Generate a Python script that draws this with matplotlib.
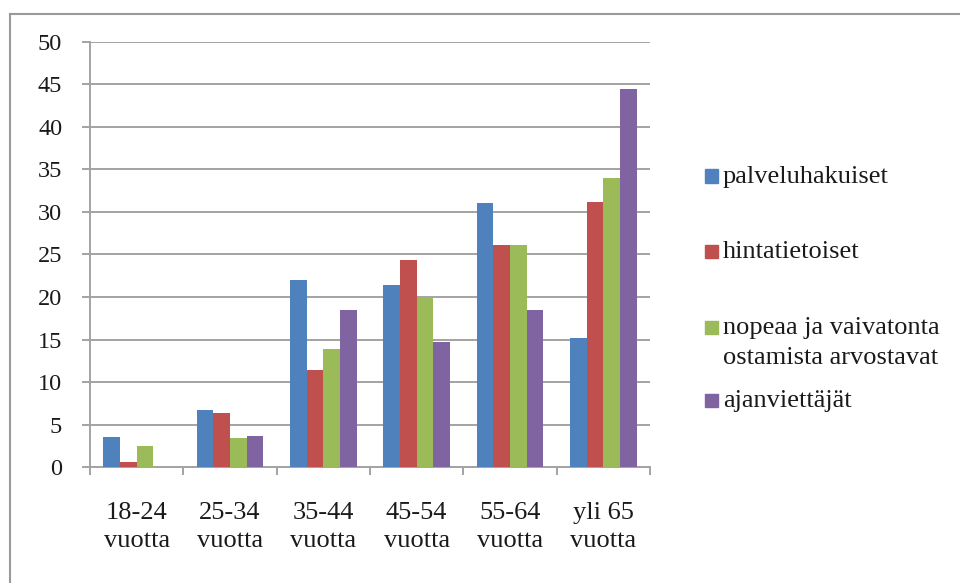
import matplotlib
matplotlib.use("Agg")
import matplotlib.pyplot as plt
from matplotlib.patches import Rectangle
from matplotlib.lines import Line2D
import numpy as np

categories = ["18-24\nvuotta", "25-34\nvuotta", "35-44\nvuotta", "45-54\nvuotta", "55-64\nvuotta", "yli 65\nvuotta"]
series_names = ["palveluhakuiset", "hintatietoiset",
                "nopeaa ja vaivatonta\nostamista arvostavat", "ajanviettäjät"]
palveluhakuiset = [3.6, 6.7, 22.0, 21.4, 31.0, 15.2]
hintatietoiset = [0.6, 6.4, 11.4, 24.3, 26.1, 31.2]
nopeaa = [2.5, 3.5, 13.9, 20.0, 26.1, 34.0]
ajanviettajat = [0.0, 3.7, 18.5, 14.7, 18.5, 44.5]
series_values = [palveluhakuiset, hintatietoiset, nopeaa, ajanviettajat]
colors = ["#4F81BD", "#C0504D", "#9BBB59", "#8064A2"]
yticks = list(range(0, 51, 5))

plt.rcParams['font.family'] = ['Liberation Serif', 'DejaVu Serif']
FS = 19
FSY = 17.5
TXT = '#1a1a1a'
GRID = '#a3a3a3'

fig = plt.figure(figsize=(9.6, 5.83), dpi=100)
W, H = 960, 583
ax = fig.add_axes([90 / W, 1 - 467.3 / H, (650 - 90) / W, (467.3 - 41.7) / H])

x = np.arange(len(categories))
bw = 1 / 5.6
for i, (vals, c) in enumerate(zip(series_values, colors)):
    ax.bar(x + (i - 1.5) * bw, vals, width=bw, color=c, zorder=3,
           edgecolor='none', linewidth=0)

ax.set_xlim(-0.5, len(categories) - 0.5)
ax.set_ylim(0, 50)
ax.set_yticks(yticks)
ax.set_yticklabels([str(v) for v in yticks])
ax.yaxis.grid(True, color=GRID, linewidth=1.4, zorder=0)
ax.set_axisbelow(True)

ax.set_xticks(x)
ax.set_xticklabels(categories, linespacing=1.35)
ax.set_xticks(np.arange(-0.5, len(categories)), minor=True)
ax.tick_params(axis='x', which='major', length=0, pad=25, labelsize=FS, labelcolor=TXT)
ax.tick_params(axis='x', which='minor', length=6, width=1.4, color=GRID, direction='out')
ax.tick_params(axis='y', length=6, width=1.4, color=GRID, direction='out', pad=14,
               labelsize=FSY, labelcolor=TXT)

for s in ['top', 'right']:
    ax.spines[s].set_visible(False)
for s in ['left', 'bottom']:
    ax.spines[s].set_color(GRID)
    ax.spines[s].set_linewidth(1.4)

# legend (manual, to mimic spreadsheet layout)
leg_y = [176, 251, 327, 400]
for name, c, yy in zip(series_names, colors, leg_y):
    fig.add_artist(Rectangle((705 / W, 1 - (yy + 6.5) / H), 13 / W, 13 / H,
                             transform=fig.transFigure, color=c))
    fig.text(723 / W, 1 - (yy + 1) / H, name.split("\n")[0], fontsize=FS, color=TXT,
             va='center', ha='left')
    if "\n" in name:
        fig.text(723 / W, 1 - (yy + 31) / H, name.split("\n")[1], fontsize=FS, color=TXT,
                 va='center', ha='left')

# outer frame (top and left edges)
fig.add_artist(Line2D([9.5 / W, 1], [1 - 13.5 / H, 1 - 13.5 / H], transform=fig.transFigure,
                      color='#9a9a9a', linewidth=1.5))
fig.add_artist(Line2D([9.5 / W, 9.5 / W], [0, 1 - 13.5 / H], transform=fig.transFigure,
                      color='#9a9a9a', linewidth=1.5))

fig.savefig("out.png", dpi=100)
